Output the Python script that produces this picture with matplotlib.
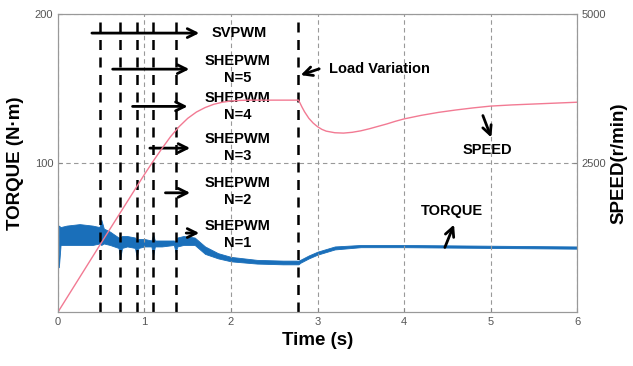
import numpy as np
from matplotlib import pyplot as plt

plt.rcParams['font.family'] = ['Liberation Sans', 'DejaVu Sans']

# speed response (r/min)
speed_t = [0.0, 0.5, 1.0, 1.1, 1.2, 1.3, 1.4, 1.5, 1.6, 1.7, 1.8, 1.9, 2.0, 2.1, 2.2, 2.78,
           2.80, 2.82, 2.85, 2.90, 2.95, 3.00, 3.05, 3.10, 3.20, 3.30, 3.40, 3.50, 3.60,
           3.70, 3.80, 3.90, 4.00, 4.20, 4.40, 4.60, 4.80, 5.00, 5.25, 5.50, 5.75, 6.00]
speed = [0, 1160, 2310, 2530, 2740, 2940, 3110, 3250, 3355, 3430, 3485, 3520, 3540, 3550, 3555, 3555,
         3500, 3440, 3360, 3250, 3170, 3110, 3065, 3035, 3008, 3002, 3015, 3040, 3075,
         3115, 3155, 3200, 3240, 3300, 3350, 3390, 3425, 3455, 3475, 3490, 3505, 3520]

# torque ripple envelope (N·m)
torque_t = [0.01, 0.03, 0.10, 0.25, 0.40, 0.48, 0.50, 0.53, 0.60, 0.70, 0.72, 0.74, 0.80,
            0.89, 0.91, 0.93, 1.00, 1.08, 1.10, 1.12, 1.20, 1.34, 1.36, 1.38, 1.45, 1.58,
            1.70, 1.85, 2.00, 2.30, 2.60, 2.78, 2.80, 2.90, 3.00, 3.20, 3.50, 4.00, 5.00, 6.00]
torque_hi = [58, 57, 58, 59, 58, 57, 62, 56, 54, 50, 50, 51, 51,
             50, 48, 49, 49, 48, 52, 48, 48, 48, 47, 50, 51, 50,
             44, 39.5, 37, 35, 34.5, 34.5, 35, 38, 40.5, 44, 45, 45, 44.5, 44]
torque_lo = [30, 45, 45, 45, 45, 46, 45, 46, 45, 43, 36, 43, 44,
             43, 37, 43, 44, 44, 38, 44, 44, 45, 40, 44, 45, 45,
             39, 36, 34, 32.5, 32, 32, 33, 36, 38.5, 42, 43.5, 43.5, 43, 42.5]
torque_start_peak = 167

switch_times = [0.49, 0.72, 0.91, 1.10, 1.36, 2.78]

blue = '#1a6fba'
pink = '#f27a93'
tick_gray = '#555555'

fig = plt.figure(figsize=(6.33, 3.66), dpi=100)
ax = fig.add_axes([0.0916, 0.1475, 0.82, 0.8142])
ax2 = ax.twinx()

ax.set_xlim(0, 6)
ax.set_ylim(0, 200)
ax2.set_ylim(0, 5000)

ax.set_xticks(range(7))
ax.set_yticks([100, 200])
ax2.set_yticks([2500, 5000])
for a in (ax, ax2):
    a.tick_params(labelsize=8, labelcolor=tick_gray, color='#888888', length=3, direction='in')
    for s in a.spines.values():
        s.set_color('#999999')
        s.set_linewidth(0.8)

ax.grid(True, color='#999999', linestyle=(0, (4, 3)), linewidth=0.8)

ax.fill_between(torque_t, torque_lo, torque_hi, color=blue, linewidth=0.6, edgecolor=blue)
ax.vlines(0.005, 0, torque_start_peak, color=blue, linewidth=1.2)

ax2.plot(speed_t, speed, color=pink, linewidth=1.0)

for t in switch_times:
    ax.axvline(t, color='black', linestyle=(0, (4, 3)), linewidth=1.8)

ax.set_xlabel('Time (s)', fontsize=13.5, fontweight='bold')
ax.set_ylabel('TORQUE (N·m)', fontsize=13.5, fontweight='bold', labelpad=8)
ax2.set_ylabel('SPEED(r/min)', fontsize=13.5, fontweight='bold', labelpad=3)

arrow = dict(arrowstyle='->', color='black', lw=2, mutation_scale=16)
font = dict(fontsize=10.5, fontweight='bold', linespacing=1.25)

ax.annotate('', xy=(1.665, 187.2), xytext=(0.36, 187.2), arrowprops=arrow)
ax.text(1.78, 187.2, 'SVPWM', ha='left', va='center', **font)

modes = [('N=5', 0.60, 1.55, 163, 162.8), ('N=4', 0.83, 1.53, 138, 138),
         ('N=3', 1.03, 1.56, 110, 110.4), ('N=2', 1.21, 1.56, 80, 81),
         ('N=1', 1.45, 1.665, 53, 52)]
for label, x0, x1, ya, yt in modes:
    ax.annotate('', xy=(x1, ya), xytext=(x0, ya), arrowprops=arrow)
    ax.text(2.08, yt, 'SHEPWM\n' + label, ha='center', va='center', **font)

ax.annotate('', xy=(2.775, 158.4), xytext=(3.05, 163.8), arrowprops=arrow)
ax.text(3.13, 163, 'Load Variation', ha='left', va='center', **font)

ax.annotate('', xy=(5.02, 115.4), xytext=(4.90, 133.6), arrowprops=arrow)
ax.text(4.96, 108.7, 'SPEED', ha='center', va='center', **font)

ax.annotate('', xy=(4.59, 60.4), xytext=(4.46, 41.6), arrowprops=arrow)
ax.text(4.55, 67.8, 'TORQUE', ha='center', va='center', **font)

fig.savefig('out.png', dpi=100)
